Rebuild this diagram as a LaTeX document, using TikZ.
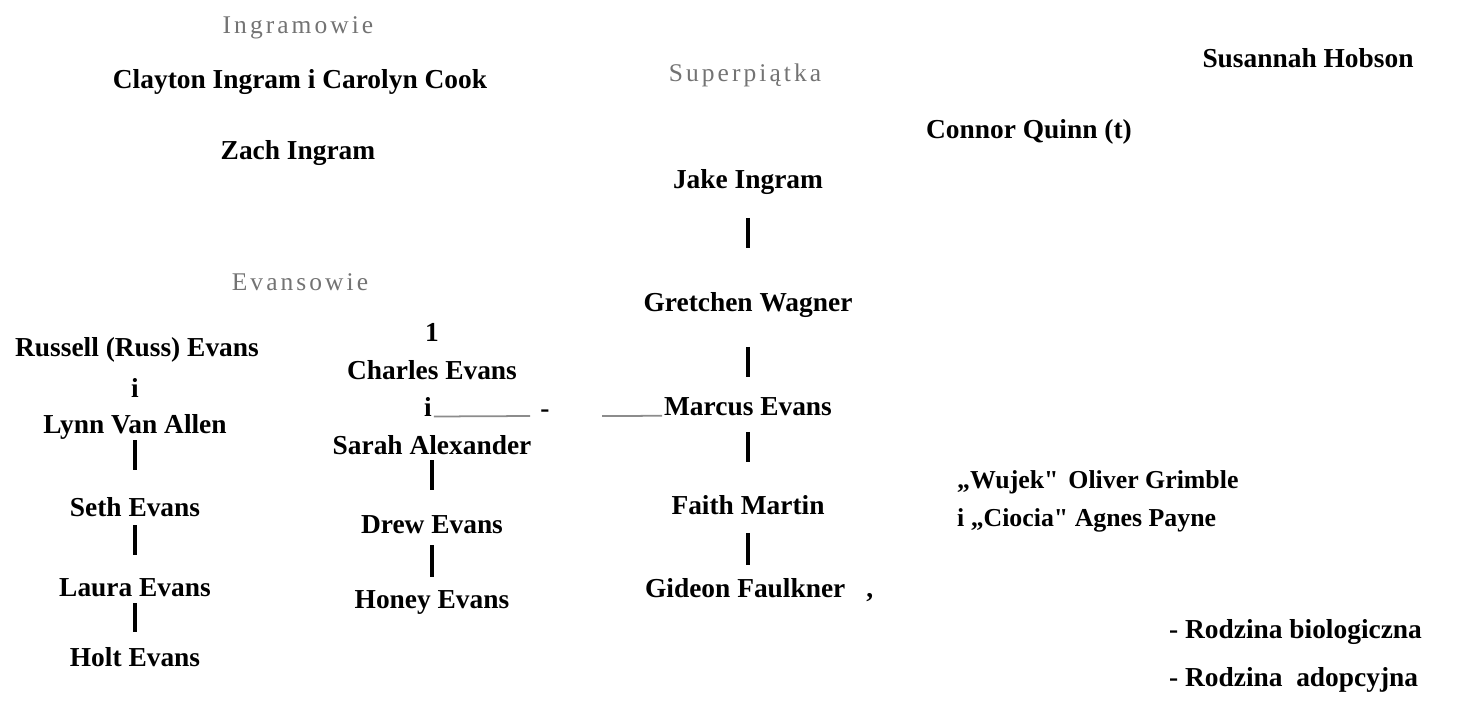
\documentclass[tikz,border=0pt]{standalone}
\usepackage{fontspec}
\setmainfont{Liberation Serif}[Ligatures=TeXOff]
\usepackage{tikz}

\begin{document}
\begin{tikzpicture}[x=0.02cm,y=-0.02cm]
\tikzstyle{every node}=[inner sep=1pt,font=\fontsize{15.6}{18}\selectfont\bfseries];
\tikzstyle{family}=[font=\fontsize{14.5}{17}\selectfont\addfontfeatures{LetterSpace=12},text=black!55];
\tikzstyle{small}=[font=\fontsize{14.7}{17}\selectfont\bfseries];
\tikzstyle{bar}=[line width=2.3pt];
\tikzstyle{link}=[line width=1pt,black!45];

\useasboundingbox (0,0) rectangle (1464,706);

% Ingramowie
\path (298,28) node[family] (ingr) {Ingramowie};
\path (300,82) node (clayton) {Clayton Ingram i Carolyn Cook};
\path (298,153) node (zach) {Zach Ingram};

% Evansowie
\path (300,282) node[family] (evans) {Evansowie};
\path (137,350) node (russell) {Russell (Russ) Evans};
\path (135,388) node (ri) {i};
\path (135,427) node (lynn) {Lynn Van Allen};
\path (135,507) node (seth) {Seth Evans};
\path (135,588) node (laura) {Laura Evans};
\path (135,657) node (holt) {Holt Evans};

\path (432,332) node (one) {1};
\path (432,370) node (charles) {Charles Evans};
\path (428,407) node (ci) {i};
\path (545,414) node (dash) {-};
\coordinate (lend) at (530,416);
\coordinate (gap) at (602,416);
\path (432,445) node (sarah) {Sarah Alexander};
\path (432,525) node (drew) {Drew Evans};
\path (432,602) node (honey) {Honey Evans};

% Superpiatka
\path (745,75) node[family] (super) {Superpiątka};
\path (748,182) node (jake) {Jake Ingram};
\path (748,305) node (gretchen) {Gretchen Wagner};
\path (748,407) node (marcus) {Marcus Evans};
\path (748,505) node (faith) {Faith Martin};
\path (643,590) node[anchor=west] (gideon) {Gideon Faulkner\hspace{12pt},};

% reszta
\path (1308,58) node (susannah) {Susannah Hobson};
\path (1029,132) node (connor) {Connor Quinn (t)};
\path (955,482) node[anchor=west,small] (oliver) {„Wujek"\hspace{2pt} Oliver Grimble};
\path (955,520) node[anchor=west,small] (agnes) {i „Ciocia" Agnes Payne};
\path (1167,632) node[anchor=west] (bio) {- Rodzina biologiczna};
\path (1167,680) node[anchor=west] (adop) {- Rodzina\ \ adopcyjna};

\draw[bar,shorten <=0.26cm,shorten >=0.74cm] (lynn.center) -- (seth.center);
\draw[bar,shorten <=0.36cm,shorten >=0.66cm] (seth.center) -- (laura.center);
\draw[bar,shorten <=0.30cm,shorten >=0.50cm] (laura.center) -- (holt.center);
\draw[bar,shorten <=0.30cm,shorten >=0.70cm] (sarah.center) -- (drew.center);
\draw[bar,shorten <=0.40cm,shorten >=0.50cm] (drew.center) -- (honey.center);
\draw[bar,shorten <=0.72cm,shorten >=1.14cm] (jake.center) -- (gretchen.center);
\draw[bar,shorten <=0.84cm,shorten >=0.60cm] (gretchen.center) -- (marcus.center);
\draw[bar,shorten <=0.50cm,shorten >=0.86cm] (marcus.center) -- (faith.center);
\draw[bar,shorten <=0.56cm,shorten >=0.50cm] (faith.center) -- (gideon.center -| faith.center);

\draw[link] (ci.base east) -- (lend);
\draw[link] (gap) -- (marcus.base west);
\end{tikzpicture}
\end{document}
